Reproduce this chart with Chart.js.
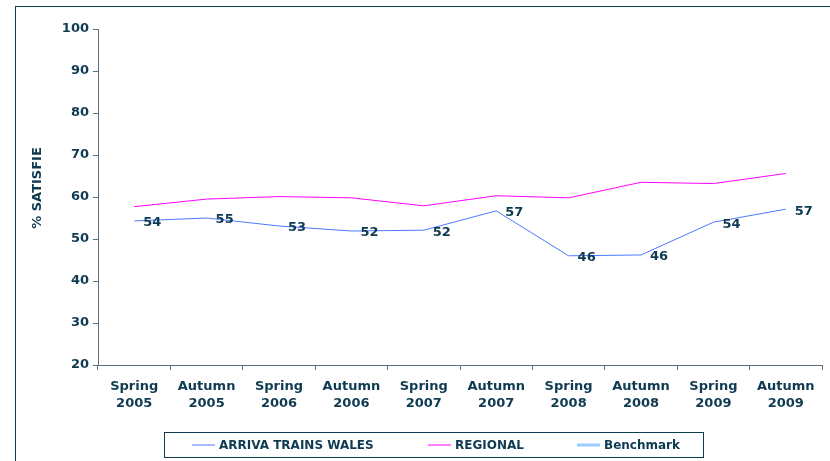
<!DOCTYPE html>
<html>
<head>
<meta charset="utf-8">
<script src="https://cdn.jsdelivr.net/npm/chart.js@4.4.1/dist/chart.umd.min.js"></script>
<style>
  html, body { margin: 0; padding: 0; background: #fff; }
  #wrap { position: relative; width: 830px; height: 461px; overflow: hidden; }
  #frame { position: absolute; left: 15px; top: 6px; width: 900px; height: 600px;
           border-left: 1px solid #0e3a52; border-top: 1px solid #0e3a52; }
  canvas { position: absolute; left: 0; top: 0; }
</style>
</head>
<body>
<div id="wrap">
  <div id="frame"></div>
  <canvas id="chart" width="830" height="461"></canvas>
</div>
<script>
const categories = [
  ["Spring", "2005"], ["Autumn", "2005"], ["Spring", "2006"], ["Autumn", "2006"],
  ["Spring", "2007"], ["Autumn", "2007"], ["Spring", "2008"], ["Autumn", "2008"],
  ["Spring", "2009"], ["Autumn", "2009"]
];
const arrivaValues = [54.3, 55.0, 53.1, 51.9, 52.1, 56.7, 46.0, 46.2, 54.0, 57.1];
const regionalValues = [57.7, 59.5, 60.1, 59.8, 57.9, 60.3, 59.8, 63.5, 63.2, 65.6];
const benchmarkValues = [null, null, null, null, null, null, null, null, null, null];
const yTitle = "% SATISFIE";

const navy = "#0e3a52";
const font = "DejaVu Sans";

// value labels beside the ARRIVA line, plus y title and boxed legend
const extras = {
  id: "extras",
  afterDatasetsDraw(chart) {
    const ctx = chart.ctx;
    const meta = chart.getDatasetMeta(0);
    ctx.save();
    ctx.fillStyle = navy;
    ctx.font = "bold 13px '" + font + "'";
    ctx.textAlign = "left";
    ctx.textBaseline = "middle";
    meta.data.forEach((pt, i) => {
      ctx.fillText(Math.round(arrivaValues[i]), pt.x + 9, pt.y + 2);
    });

    // y axis title
    ctx.save();
    ctx.translate(38, chart.chartArea.top + (chart.chartArea.bottom - chart.chartArea.top) / 2 - 9);
    ctx.rotate(-Math.PI / 2);
    ctx.textAlign = "center";
    ctx.font = "bold 13px '" + font + "'";
    ctx.fillText(yTitle, 0, 0);
    ctx.restore();

    // legend box
    const boxL = 164.5, boxT = 432.5, boxW = 539, boxH = 25;
    ctx.strokeStyle = navy;
    ctx.lineWidth = 1;
    ctx.strokeRect(boxL, boxT, boxW, boxH);
    const starts = [192, 428, 577];
    ctx.font = "bold 12px '" + font + "'";
    chart.data.datasets.forEach((ds, i) => {
      const x = starts[i];
      const y = boxT + boxH / 2;
      ctx.strokeStyle = ds.borderColor;
      ctx.lineWidth = ds.legendWidth;
      ctx.beginPath();
      ctx.moveTo(x, y);
      ctx.lineTo(x + 23, y);
      ctx.stroke();
      ctx.fillStyle = navy;
      ctx.fillText(ds.label, x + 27, y + 1);
    });
    ctx.restore();
  }
};

new Chart(document.getElementById("chart"), {
  type: "line",
  data: {
    labels: categories,
    datasets: [
      { label: "ARRIVA TRAINS WALES", data: arrivaValues, borderColor: "#4d79ff",
        borderWidth: 1, pointRadius: 0, tension: 0, legendWidth: 1 },
      { label: "REGIONAL", data: regionalValues, borderColor: "#ff00ff",
        borderWidth: 1, pointRadius: 0, tension: 0, legendWidth: 1 },
      { label: "Benchmark", data: benchmarkValues, borderColor: "#99ccff",
        borderWidth: 3, pointRadius: 0, tension: 0, legendWidth: 3 }
    ]
  },
  options: {
    responsive: false,
    animation: false,
    layout: { padding: { left: 0, top: 29, right: 8, bottom: 0 } },
    plugins: { legend: { display: false }, tooltip: { enabled: false } },
    scales: {
      x: {
        offset: true,
        afterFit(scale) { scale.height = 96; },
        border: { color: "#5a7080", width: 1 },
        grid: { offset: true, drawOnChartArea: false, drawTicks: true, tickLength: 5, color: "#5a7080" },
        ticks: { color: navy, font: { family: font, size: 13, weight: "bold", lineHeight: 1.3 },
                 maxRotation: 0, padding: 8 }
      },
      y: {
        min: 20,
        max: 100,
        afterFit(scale) { scale.width = 98; },
        border: { color: "#5a7080", width: 1 },
        grid: { drawOnChartArea: false, drawTicks: true, tickLength: 5, color: "#5a7080" },
        ticks: { stepSize: 10, color: navy, font: { family: font, size: 13, weight: "bold" }, padding: 4 }
      }
    }
  },
  plugins: [extras]
});
</script>
</body>
</html>
